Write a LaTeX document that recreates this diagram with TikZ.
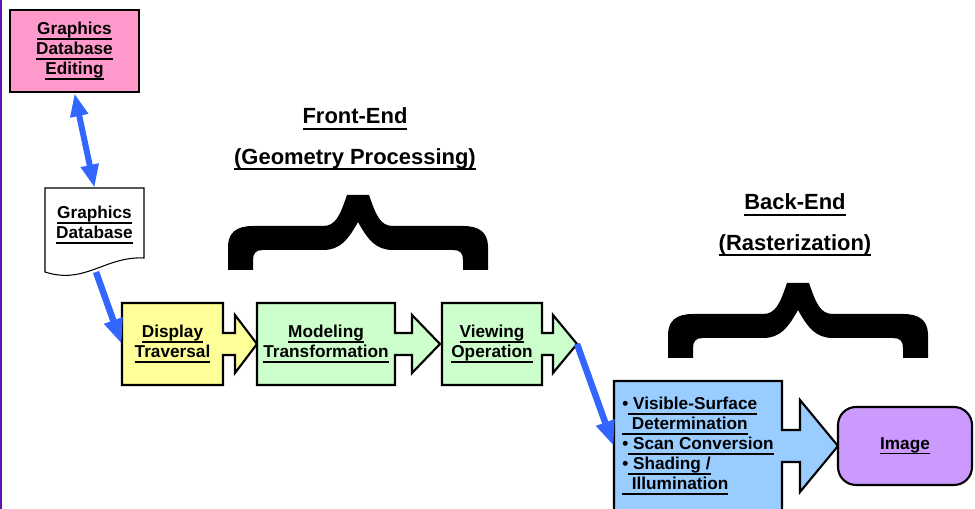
\documentclass[tikz,border=0pt]{standalone}
\usepackage{fontspec}
\setmainfont{Liberation Sans}
\usetikzlibrary{arrows.meta}
\definecolor{pinkbox}{HTML}{FF99CC}
\definecolor{stageyellow}{HTML}{FFFF99}
\definecolor{stagegreen}{HTML}{CCFFCC}
\definecolor{rasterblue}{HTML}{99CCFF}
\definecolor{imagepurple}{HTML}{CC99FF}
\definecolor{linkblue}{HTML}{3366FF}
\definecolor{edgepurple}{HTML}{6014B4}
\newcommand{\undl}[1]{\setbox0\hbox{#1}\rlap{\rule[-0.27em]{\wd0}{0.07em}}\box0}

\begin{document}
\begin{tikzpicture}[x=0.02cm, y=-0.02cm, font=\bfseries\fontsize{9.8}{11.4}\selectfont]
        \tikzstyle{editbox} = [rectangle, draw=black, line width=1.5pt, fill=pinkbox, minimum width=2.58cm, minimum height=1.64cm, align=center]
        \tikzstyle{stagetext} = [align=center, minimum height=1.64cm]
        \tikzstyle{imagebox} = [rectangle, rounded corners=0.36cm, draw=black, line width=1.2pt, fill=imagepurple, minimum width=2.68cm, minimum height=1.56cm]
        \tikzstyle{title} = [align=center, font=\bfseries\fontsize{12.5}{22.8}\selectfont]
        \tikzstyle{link} = [line width=0.13cm, draw=linkblue, -{Triangle[length=0.5cm, width=0.36cm]}]
        \useasboundingbox (0,0) rectangle (975,509);
        \fill[edgepurple] (0,0) rectangle (2.5,509);
        % database side
        \node [editbox] (edit) at (74.5,51) {\undl{Graphics}\\\undl{Database}\\\undl{Editing}};
        \filldraw[fill=white, draw=black, line width=0.6pt] (45,188) -- (144,188) -- (144,258) .. controls (105,256) and (85,285) .. (45,272) -- cycle;
        \node [stagetext, minimum width=1.98cm, minimum height=1.48cm] (db) at (94.5,225) {\undl{Graphics}\\\undl{Database}};
        % front-end stages
        \foreach \xl/\xr/\xh/\xt/\c in {122/223/235/257/stageyellow, 257/395/412/440/stagegreen, 442/542/553/577/stagegreen}
            \filldraw[fill=\c, draw=black, line width=1.2pt] (\xl,303) -- (\xr,303) -- (\xr,333) -- (\xh,333) -- (\xh,315) -- (\xt,344) -- (\xh,373) -- (\xh,355) -- (\xr,355) -- (\xr,385) -- (\xl,385) -- cycle;
        \node [stagetext, minimum width=2.02cm] (disp) at (172.5,344) {\undl{Display}\\\undl{Traversal}};
        \node [stagetext, minimum width=2.76cm] (model) at (326,344) {\undl{Modeling}\\\undl{Transformation}};
        \node [stagetext, minimum width=2.0cm] (view) at (492,344) {\undl{Viewing}\\\undl{Operation}};
        \coordinate (viewtip) at (577,344);
        % back-end
        \filldraw[fill=rasterblue, draw=black, line width=1.2pt] (614,530) -- (614,381) -- (782,381) -- (782,430) -- (800,430) -- (800,400) -- (838,446) -- (800,492) -- (800,462) -- (782,462) -- (782,530);
        \node [align=left, minimum width=3.36cm, minimum height=2.6cm] (raster) at (698,446) {\textbullet\undl{\ Visible-Surface}\\\undl{\ \ Determination}\\\textbullet\undl{\ Scan Conversion}\\\textbullet\undl{\ Shading /}\\\undl{\ \ Illumination}};
        \node [imagebox] (img) at (905,446) {\undl{Image}};
        % titles and braces
        \node [title] (front) at (355,139) {\undl{Front-End}\\\undl{(Geometry Processing)}};
        \node [title] (back) at (795,225) {\undl{Back-End}\\\undl{(Rasterization)}};
        \foreach \bx/\by in {228/195, 668/283}
            \fill[shift={(\bx,\by)}] (0,75) -- (0,52) .. controls (0,38) and (8,31) .. (25,31) -- (95,31) .. controls (108,31) and (112,20) .. (119,0) -- (141,0) .. controls (148,20) and (152,31) .. (165,31) -- (235,31) .. controls (252,31) and (260,38) .. (260,52) -- (260,75) -- (235,75) -- (235,65) .. controls (235,58) and (232,55) .. (225,55) -- (165,55) .. controls (148,55) and (140,45) .. (130,27) .. controls (120,45) and (112,55) .. (95,55) -- (35,55) .. controls (28,55) and (25,58) .. (25,65) -- (25,75) -- cycle;
        % connectors
        \coordinate (dbfoot) at (96,272);
        \draw [link, line width=0.12cm, {Triangle[length=0.46cm, width=0.34cm]}-{Triangle[length=0.46cm, width=0.34cm]}] (db.north) -- (edit.south);
        \draw [link] (dbfoot) -- (disp.west);
        \draw [link] (viewtip) -- (raster.west);
    \end{tikzpicture}
\end{document}
